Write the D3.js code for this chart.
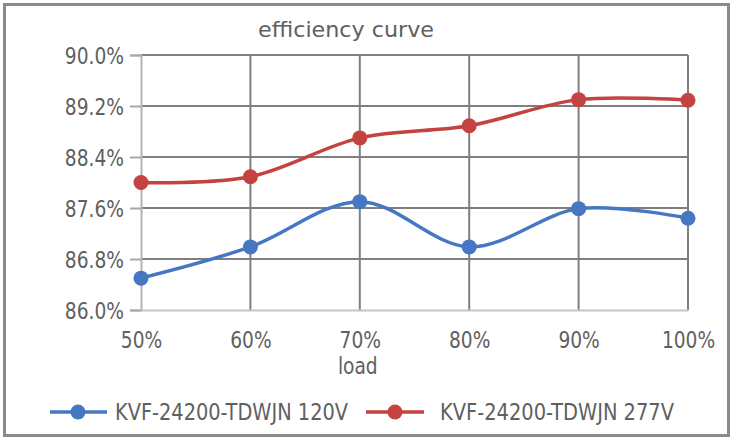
<!DOCTYPE html>
<html>
<head>
<meta charset="utf-8">
<script src="https://cdn.jsdelivr.net/npm/d3@7"></script>
<style>
  html, body { margin: 0; padding: 0; background: #fff; }
  svg { display: block; }
  text { font-family: "Liberation Sans Narrow", "DejaVu Sans Condensed", "Roboto", sans-serif; font-stretch: condensed; fill: #606060; }
</style>
</head>
<body>
<svg id="chart" width="735" height="438"></svg>
<script>
const categories = ["50%", "60%", "70%", "80%", "90%", "100%"];
const seriesNames = ["KVF-24200-TDWJN 120V", "KVF-24200-TDWJN 277V"];
const values120 = [86.50, 86.99, 87.70, 86.99, 87.59, 87.44];
const values277 = [88.00, 88.09, 88.70, 88.89, 89.30, 89.29];
const yTicks = [86.0, 86.8, 87.6, 88.4, 89.2, 90.0];
const colors = ["#4677c2", "#c4423f"];
const titleText = "efficiency curve";
const xAxisTitle = "load";

(function () {
const svg = d3.select("#chart");
const pLeft = 141, pRight = 688, pTop = 55, pBottom = 310;

const x = d3.scalePoint().domain(categories).range([pLeft, pRight]);
const y = d3.scaleLinear().domain([86, 90]).range([pBottom, pTop]);

function narrow(sel, k) {
  sel.each(function () {
    const w = this.getComputedTextLength();
    d3.select(this).attr("textLength", w * k).attr("lengthAdjust", "spacingAndGlyphs");
  });
}

// outer border
svg.append("rect").attr("x", 4.5).attr("y", 4.5).attr("width", 724).attr("height", 431)
  .attr("fill", "#fff").attr("stroke", "#8a8a8a").attr("stroke-width", 3);

// title
svg.append("text").attr("x", 346).attr("y", 37).attr("text-anchor", "middle")
  .attr("font-size", 21).attr("textLength", 176).attr("lengthAdjust", "spacingAndGlyphs")
  .text(titleText);

// horizontal gridlines
svg.append("g").selectAll("line").data(yTicks.filter(d => d > 86)).join("line")
  .attr("x1", pLeft).attr("x2", pRight)
  .attr("y1", d => y(d)).attr("y2", d => y(d))
  .attr("stroke", "#7f7f7f").attr("stroke-width", 2);

// vertical gridlines
svg.append("g").selectAll("line").data(categories.slice(1)).join("line")
  .attr("x1", d => x(d)).attr("x2", d => x(d))
  .attr("y1", pTop).attr("y2", pBottom)
  .attr("stroke", "#7f7f7f").attr("stroke-width", 2);

// y axis
const yAxis = d3.axisLeft(y).tickValues(yTicks).tickSize(11).tickPadding(6)
  .tickFormat(d => d3.format(".1f")(d) + "%");
const gy = svg.append("g").attr("transform", `translate(${pLeft},0)`).call(yAxis);
gy.attr("font-family", null).attr("font-size", null);
gy.select(".domain").attr("stroke", "#b3b3b3").attr("stroke-width", 2);
gy.selectAll(".tick line").attr("stroke", "#a8a8a8").attr("stroke-width", 2);
gy.selectAll(".tick text").attr("font-size", 23).attr("fill", "#606060").attr("dy", "0.38em");
narrow(gy.selectAll(".tick text"), 0.9);

// x axis
const xAxis = d3.axisBottom(x).tickSize(0).tickPadding(22);
const gx = svg.append("g").attr("transform", `translate(0,${pBottom})`).call(xAxis);
gx.attr("font-family", null).attr("font-size", null);
gx.select(".domain").attr("stroke", "#c4c4c4").attr("stroke-width", 2);
gx.selectAll(".tick text").attr("font-size", 23).attr("fill", "#606060");
narrow(gx.selectAll(".tick text"), 0.9);

// x axis title (sits under the 70% label)
svg.append("text").attr("x", x("70%") - 2).attr("y", 374).attr("text-anchor", "middle")
  .attr("font-size", 23).text(xAxisTitle)
  .call(s => narrow(s, 0.9));

// series
const series = [values120, values277];
const line = d3.line().x((d, i) => x(categories[i])).y(d => y(d)).curve(d3.curveCardinal.tension(0));
series.forEach((vals, si) => {
  svg.append("path").datum(vals).attr("d", line)
    .attr("fill", "none").attr("stroke", colors[si]).attr("stroke-width", 3.5);
  svg.append("g").selectAll("circle").data(vals).join("circle")
    .attr("cx", (d, i) => x(categories[i])).attr("cy", d => y(d)).attr("r", 7.5)
    .attr("fill", colors[si]);
});

// legend
const legendItems = [
  { x0: 50, x1: 107, cx: 78, tx: 115, tw: 233 },
  { x0: 366, x1: 424, cx: 395, tx: 440, tw: 234 }
];
legendItems.forEach((L, i) => {
  const ly = 412;
  svg.append("line").attr("x1", L.x0).attr("x2", L.x1).attr("y1", ly).attr("y2", ly)
    .attr("stroke", colors[i]).attr("stroke-width", 3.5);
  svg.append("circle").attr("cx", L.cx).attr("cy", ly).attr("r", 7.5).attr("fill", colors[i]);
  svg.append("text").attr("x", L.tx).attr("y", ly + 8).attr("font-size", 23)
    .attr("textLength", L.tw).attr("lengthAdjust", "spacingAndGlyphs")
    .text(seriesNames[i]);
});
})();
</script>
</body>
</html>
